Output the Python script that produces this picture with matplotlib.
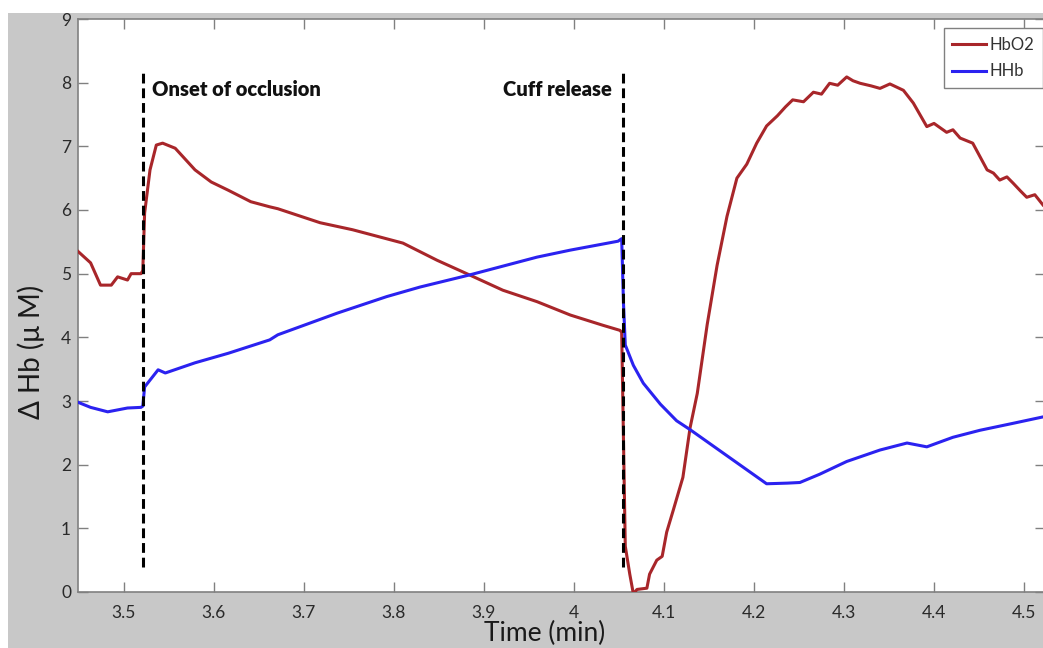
import matplotlib
matplotlib.use("Agg")
import matplotlib.pyplot as plt
from matplotlib.patches import Rectangle

# Data (time in min, delta Hb in uM)
hbo2_t = [3.449, 3.463, 3.474, 3.486, 3.493, 3.504, 3.508, 3.519, 3.521, 3.523,
          3.529, 3.536, 3.543, 3.557, 3.579, 3.597, 3.616, 3.641, 3.662, 3.671,
          3.718, 3.754, 3.810, 3.848, 3.884, 3.921, 3.959, 3.996, 4.032, 4.051,
          4.053, 4.057, 4.062, 4.066, 4.070, 4.081, 4.084, 4.092, 4.098, 4.103,
          4.110, 4.121, 4.129, 4.137, 4.148, 4.159, 4.170, 4.181, 4.192, 4.203,
          4.214, 4.226, 4.235, 4.243, 4.255, 4.266, 4.275, 4.284, 4.293, 4.303,
          4.310, 4.318, 4.330, 4.340, 4.351, 4.366, 4.377, 4.392, 4.400, 4.414,
          4.421, 4.429, 4.443, 4.459, 4.466, 4.473, 4.481, 4.488, 4.496, 4.503,
          4.512, 4.521]
hbo2 = [5.35, 5.17, 4.82, 4.82, 4.95, 4.90, 5.00, 5.00, 5.05, 5.95,
        6.63, 7.02, 7.05, 6.97, 6.63, 6.44, 6.31, 6.13, 6.05, 6.02,
        5.80, 5.69, 5.48, 5.21, 4.98, 4.74, 4.56, 4.35, 4.19, 4.11,
        4.08, 0.72, 0.28, -0.03, 0.04, 0.06, 0.28, 0.50, 0.56, 0.94,
        1.27, 1.80, 2.58, 3.12, 4.20, 5.13, 5.90, 6.50, 6.72, 7.05,
        7.32, 7.48, 7.62, 7.73, 7.70, 7.85, 7.82, 7.99, 7.96, 8.09,
        8.03, 7.99, 7.95, 7.91, 7.98, 7.88, 7.68, 7.31, 7.36, 7.22,
        7.26, 7.13, 7.05, 6.63, 6.58, 6.47, 6.52, 6.42, 6.30, 6.20,
        6.24, 6.08]

hhb_t = [3.449, 3.463, 3.482, 3.504, 3.519, 3.521, 3.523, 3.538, 3.546, 3.579,
         3.616, 3.662, 3.671, 3.737, 3.792, 3.829, 3.884, 3.959, 3.996, 4.049,
         4.053, 4.055, 4.057, 4.066, 4.077, 4.096, 4.114, 4.129, 4.148, 4.170,
         4.192, 4.214, 4.237, 4.251, 4.273, 4.303, 4.340, 4.370, 4.392, 4.421,
         4.451, 4.488, 4.521]
hhb = [2.98, 2.90, 2.83, 2.89, 2.90, 2.92, 3.22, 3.49, 3.44, 3.60,
       3.75, 3.96, 4.04, 4.38, 4.64, 4.79, 4.98, 5.26, 5.37, 5.51,
       5.55, 4.54, 3.88, 3.56, 3.28, 2.95, 2.69, 2.55, 2.36, 2.14,
       1.92, 1.70, 1.71, 1.72, 1.85, 2.05, 2.23, 2.34, 2.28, 2.43,
       2.54, 2.65, 2.75]

event_times = [3.521, 4.054]
event_labels = ["Onset of occlusion", "Cuff release"]

x_ticks = [3.5, 3.6, 3.7, 3.8, 3.9, 4.0, 4.1, 4.2, 4.3, 4.4, 4.5]
x_tick_labels = ["3.5", "3.6", "3.7", "3.8", "3.9", "4", "4.1", "4.2", "4.3", "4.4", "4.5"]
y_ticks = list(range(10))

W, H = 1043, 648
plt.rcParams["font.family"] = ["Lato", "DejaVu Sans"]
fig = plt.figure(figsize=(W / 100, H / 100), dpi=100, facecolor="white")

# gray figure background with thin white margin top/left
fig.patches.append(Rectangle((8 / W, 0), 1, (H - 13) / H, transform=fig.transFigure,
                             facecolor="#c8c8c8", edgecolor="none", zorder=-10))

ax = fig.add_axes([78 / W, 56 / H, 967 / W, 573 / H])
ax.set_facecolor("white")

ax.plot(hbo2_t, hbo2, color="#a8262a", lw=2.2, label="HbO2", zorder=3)
ax.plot(hhb_t, hhb, color="#2b22f0", lw=2.2, label="HHb", zorder=3)

for t in event_times:
    ax.vlines(t, 0.4, 8.15, colors="black", linestyles=(0, (3.2, 1.6)), lw=2.2, zorder=4)

ax.text(event_times[0] + 0.010, 7.9, event_labels[0], fontsize=14.5, fontweight="heavy",
        ha="left", va="center", color="#111111")
ax.text(event_times[1] - 0.012, 7.9, event_labels[1], fontsize=14.5, fontweight="heavy",
        ha="right", va="center", color="#111111")

ax.set_xlim(3.449, 4.5233)
ax.set_ylim(0, 9)
ax.set_xticks(x_ticks)
ax.set_xticklabels(x_tick_labels)
ax.set_yticks(y_ticks)

for s in ax.spines.values():
    s.set_color("#808080")
    s.set_linewidth(1.2)

ax.tick_params(direction="in", length=7, width=1, color="#808080",
               labelsize=12.5, labelcolor="#2a2a2a", top=True, right=True)
ax.tick_params(axis="x", pad=9)
ax.tick_params(axis="y", pad=5)

ax.set_xlabel("Time (min)", fontsize=19, color="#1a1a1a")
ax.set_ylabel("Δ Hb (μ M)", fontsize=20, color="#1a1a1a")
ax.xaxis.set_label_coords(0.483, -0.05)
ax.yaxis.set_label_coords(-0.034, 0.419)

leg = ax.legend(loc="upper right", bbox_to_anchor=(0.998, 0.984), fontsize=12,
                frameon=True, fancybox=False, edgecolor="#808080", framealpha=1,
                handlelength=2.0, handletextpad=0.25, borderpad=0.5, labelspacing=0.65,
                borderaxespad=0)
leg.get_frame().set_linewidth(1.0)
for txt in leg.get_texts():
    txt.set_color("#333333")

fig.savefig("out.png", dpi=100, facecolor=fig.get_facecolor())
